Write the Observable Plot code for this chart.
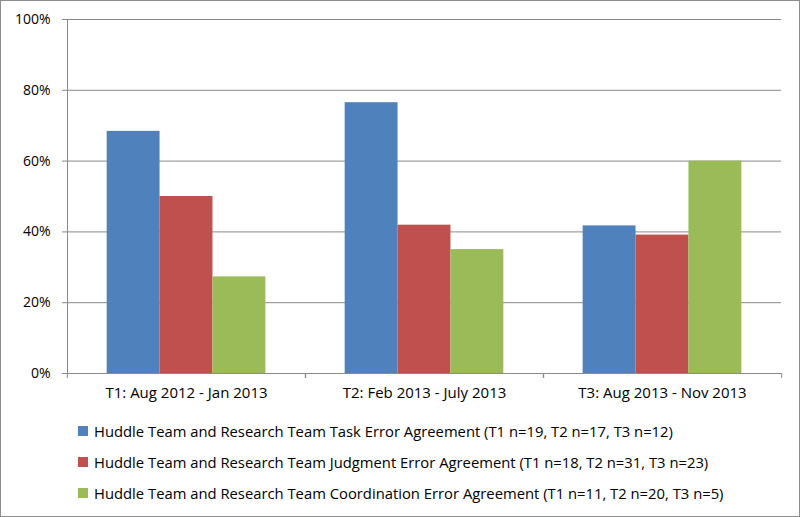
<!DOCTYPE html>
<html><head><meta charset="utf-8">
<script src="https://cdn.jsdelivr.net/npm/d3@7"></script>
<script src="https://cdn.jsdelivr.net/npm/@observablehq/plot@0.6"></script>
<style>
body{margin:0;background:#fff;}
#wrap{width:800px;height:517px;box-sizing:border-box;border:1px solid #8c8c8c;position:relative;font-family:"Open Sans",sans-serif;background:#fff;overflow:hidden;}
#wrap svg{display:block;}
#legend{margin-top:6px;padding-left:77px;}
.row{height:31px;display:flex;align-items:center;font-size:14.8px;color:#000;white-space:nowrap;}
.sw{width:10px;height:10px;margin-right:6px;flex:none;}
</style></head><body><div id="wrap"></div>
<script>
const periods = ["T1: Aug 2012 - Jan 2013", "T2: Feb 2013 - July 2013", "T3: Aug 2013 - Nov 2013"];
const series = [
  "Huddle Team and Research Team Task Error Agreement (T1 n=19, T2 n=17, T3 n=12)",
  "Huddle Team and Research Team Judgment Error Agreement (T1 n=18, T2 n=31, T3 n=23)",
  "Huddle Team and Research Team Coordination Error Agreement (T1 n=11, T2 n=20, T3 n=5)"
];
const taskValues = [0.684, 0.765, 0.417];
const judgmentValues = [0.500, 0.419, 0.391];
const coordinationValues = [0.273, 0.350, 0.600];
const colors = ["#4F81BD", "#C0504D", "#9BBB59"];
const yTicks = [0, 0.2, 0.4, 0.6, 0.8, 1];

const seriesValues = [taskValues, judgmentValues, coordinationValues];
const data = periods.flatMap((p, i) => series.map((s, j) => ({period: p, series: s, value: seriesValues[j][i]})));

const W = 798, H = 408, mL = 65, mR = 18, mT = 18, mB = 36;
const band = (W - mL - mR) / periods.length;
const gray = "#898989";

const chart = Plot.plot({
  width: W, height: H,
  marginLeft: mL, marginRight: mR, marginTop: mT, marginBottom: mB,
  style: {fontFamily: "'Open Sans', sans-serif", fontSize: "14px", color: "#000", background: "white"},
  fx: {domain: periods, padding: 0, label: null},
  x: {domain: series, paddingInner: 0, paddingOuter: 0.75, round: false, axis: null},
  y: {domain: [0, 1], label: null},
  color: {domain: series, range: colors},
  marks: [
    Plot.gridY(yTicks, {stroke: gray, strokeOpacity: 1}),
    Plot.barY(data, {fx: "period", x: "series", y: "value", fill: "series"}),
    Plot.axisY(yTicks, {tickFormat: d3.format(".0%"), tickSize: 5, tickPadding: 12, stroke: gray, fill: "#000", fontSize: 14, label: null}),
    Plot.axisFx({anchor: "bottom", tickSize: 0, tickPadding: 14, fill: "#000", fontSize: 15, label: null}),
    Plot.axisFx({anchor: "bottom", tickSize: 5, text: null, dx: band / 2, stroke: gray, label: null}),
    Plot.axisFx([periods[0]], {anchor: "bottom", tickSize: 5, text: null, dx: -band / 2, stroke: gray, label: null}),
    Plot.frame({anchor: "left", facetAnchor: "left", stroke: gray})
  ]
});

const wrap = document.getElementById("wrap");
wrap.appendChild(chart);
const legend = document.createElement("div");
legend.id = "legend";
series.forEach((s, j) => {
  const row = document.createElement("div");
  row.className = "row";
  const sw = document.createElement("span");
  sw.className = "sw";
  sw.style.background = colors[j];
  const t = document.createElement("span");
  t.textContent = s;
  row.appendChild(sw); row.appendChild(t);
  legend.appendChild(row);
});
wrap.appendChild(legend);
</script></body></html>
